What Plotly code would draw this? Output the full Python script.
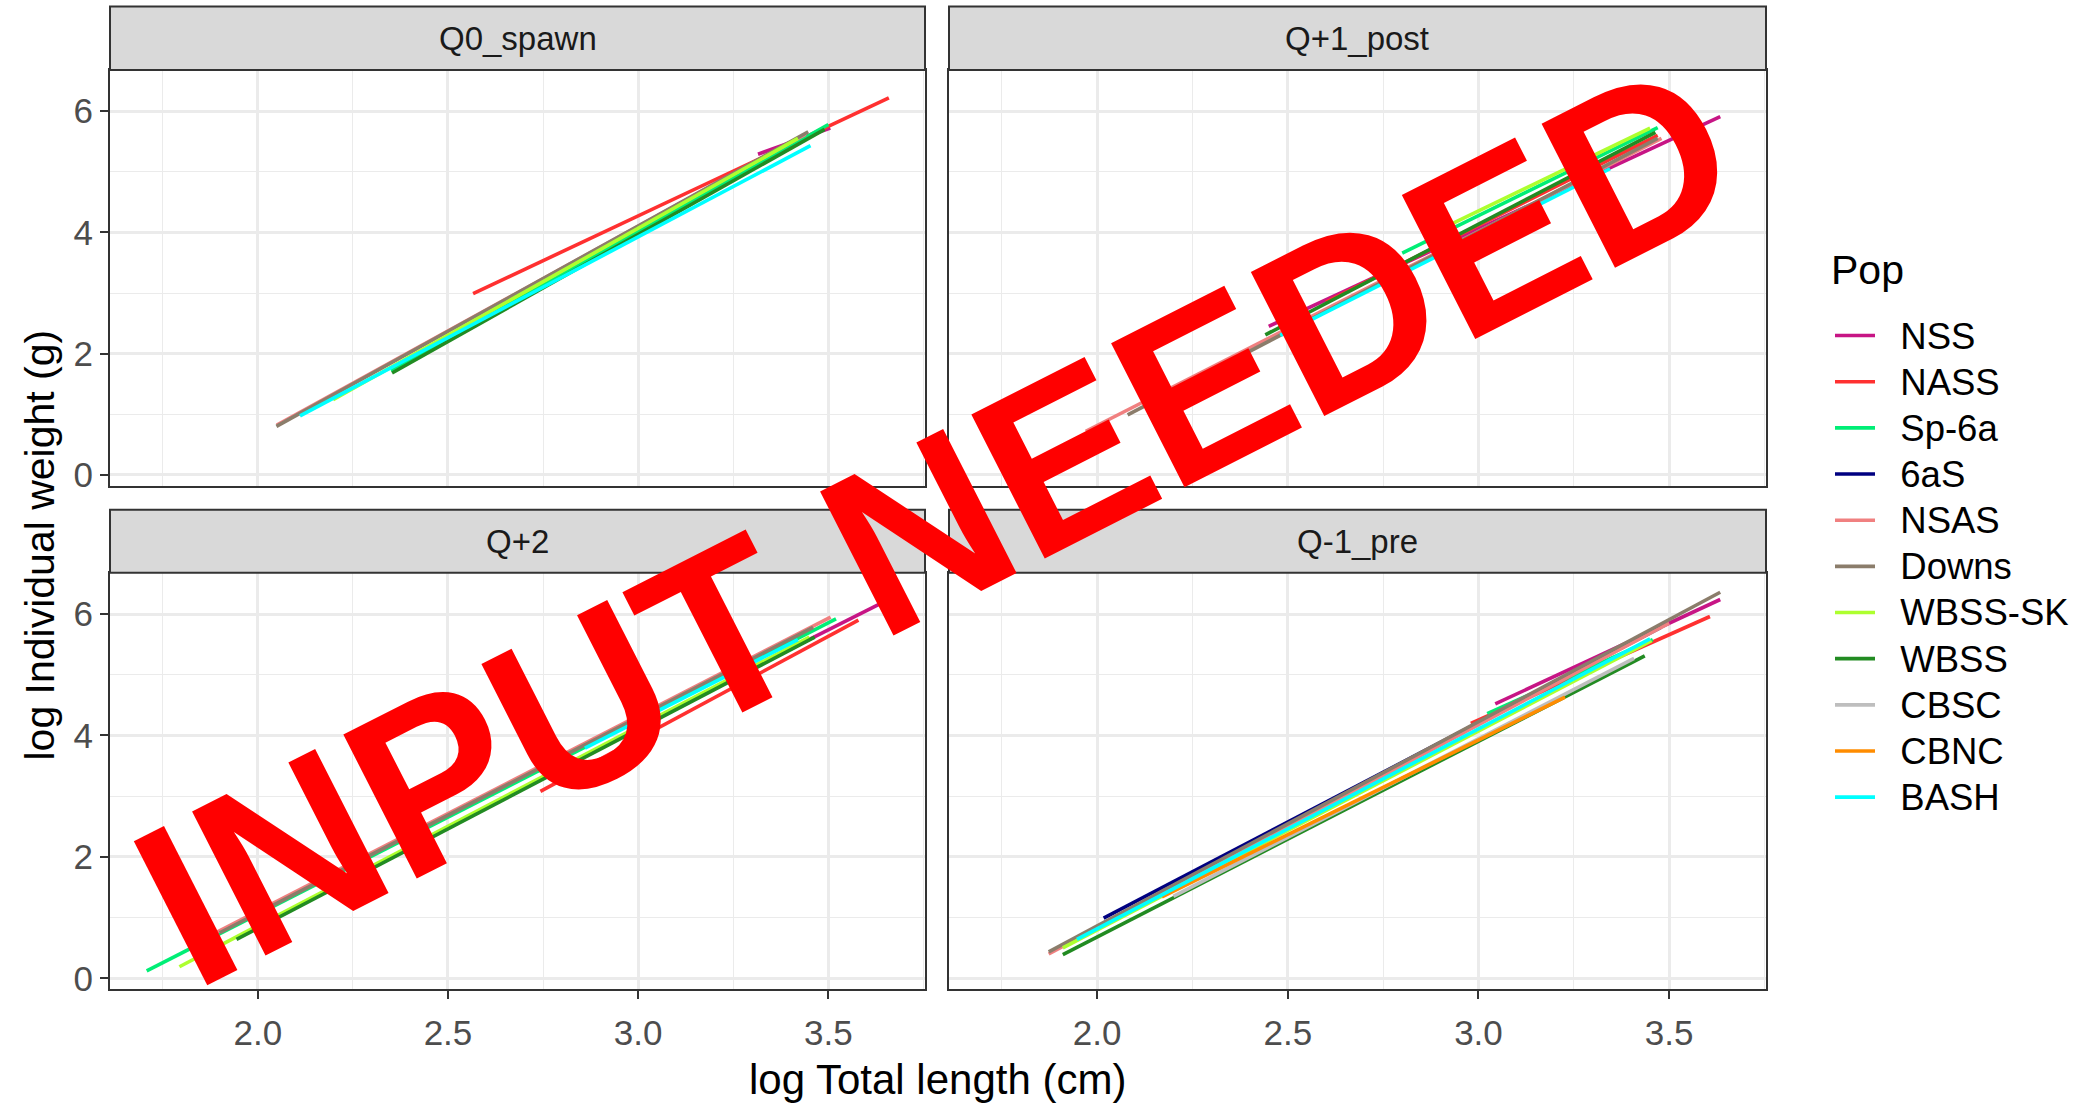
import plotly.graph_objects as go

W, H = 2096, 1104
FONT = "Liberation Sans"

# ---- data ----------------------------------------------------------------
POPS = ["NSS", "NASS", "Sp-6a", "6aS", "NSAS", "Downs", "WBSS-SK", "WBSS", "CBSC", "CBNC", "BASH"]
POP_COLORS = ["#C71585", "#FF3030", "#00EE76", "#000080", "#F08080", "#8B7D6B",
              "#ADFF2F", "#228B22", "#BEBEBE", "#FF8C00", "#00FFFF"]
PANELS = ["Q0_spawn", "Q+1_post", "Q+2", "Q-1_pre"]

# fitted lines per panel: (population, x start, x end, y start, y end)
Q0_SPAWN = [
    ("NSS", 3.315, 3.505, 5.29, 5.72),
    ("NASS", 2.566, 3.659, 2.99, 6.22),
    ("Sp-6a", 2.35, 3.50, 1.72, 5.78),
    ("NSAS", 2.05, 3.44, 0.82, 5.62),
    ("Downs", 2.049, 3.447, 0.80, 5.66),
    ("WBSS-SK", 2.198, 3.42, 1.24, 5.55),
    ("WBSS", 2.353, 3.49, 1.68, 5.70),
    ("BASH", 2.111, 3.453, 0.975, 5.43),
]
Q1_POST = [
    ("NSS", 2.45, 3.634, 2.45, 5.91),
    ("NASS", 2.60, 3.47, 2.85, 5.60),
    ("Sp-6a", 2.80, 3.47, 3.66, 5.73),
    ("NSAS", 1.97, 3.48, 0.72, 5.55),
    ("Downs", 2.08, 3.47, 0.99, 5.55),
    ("WBSS-SK", 2.90, 3.45, 4.05, 5.72),
    ("WBSS", 2.441, 3.464, 2.31, 5.65),
    ("BASH", 2.48, 3.345, 2.30, 5.05),
]
Q2 = [
    ("NSS", 3.25, 3.642, 4.95, 6.19),
    ("NASS", 2.743, 3.579, 3.08, 5.90),
    ("Sp-6a", 1.708, 3.52, 0.12, 5.92),
    ("NSAS", 1.88, 3.506, 0.72, 5.95),
    ("Downs", 1.90, 3.46, 0.75, 5.78),
    ("WBSS-SK", 1.794, 3.45, 0.19, 5.62),
    ("WBSS", 1.944, 3.464, 0.64, 5.62),
    ("BASH", 2.86, 3.42, 3.79, 5.58),
]
Q_1_PRE = [
    ("NSS", 3.044, 3.634, 4.52, 6.24),
    ("NASS", 2.98, 3.607, 4.20, 5.96),
    ("Sp-6a", 3.023, 3.457, 4.36, 5.58),
    ("6aS", 2.017, 3.478, 0.99, 5.78),
    ("NSAS", 1.873, 3.50, 0.40, 5.85),
    ("Downs", 1.873, 3.634, 0.435, 6.36),
    ("WBSS-SK", 1.91, 3.454, 0.50, 5.56),
    ("WBSS", 1.91, 3.436, 0.39, 5.31),
    ("CBSC", 2.20, 3.408, 1.35, 5.27),
    ("CBNC", 2.17, 3.227, 1.34, 4.63),
    ("BASH", 1.947, 3.45, 0.64, 5.59),
]
PANEL_DATA = [Q0_SPAWN, Q1_POST, Q2, Q_1_PRE]

X_TICKS = [2.0, 2.5, 3.0, 3.5]
Y_TICKS = [0, 2, 4, 6]

# ---- layout geometry (pixels in the 2096x1104 page) ---------------------
COLS_PX = [(110, 925), (949, 1766)]
ROWS_PX = [(70.5, 489.5), (577.5, 997)]      # plot area top/bottom
STRIP_PX = [(6.5, 70.5), (514, 577.5)]        # strip top/bottom


def px_x(p):
    return p / W


def px_y(p):
    return 1 - p / H


fig = go.Figure()
seen = set()
for k, rows in enumerate(PANEL_DATA):
    by_pop = {r[0]: r for r in rows}
    for pop, col in zip(POPS, POP_COLORS):
        if pop not in by_pop:
            continue
        _, x0, x1, y0, y1 = by_pop[pop]
        fig.add_trace(go.Scatter(
            x=[x0, x1], y=[y0, y1], mode="lines",
            line=dict(color=col, width=3.6),
            name=f"<span style='font-size:36.5px'>&nbsp;&nbsp;{pop}</span>",
            legendgroup=pop, legendrank=POPS.index(pop) + 1,
            showlegend=pop not in seen,
            xaxis=f"x{k + 1}", yaxis=f"y{k + 1}", hoverinfo="skip",
        ))
        seen.add(pop)

axis_common = dict(
    showgrid=True, gridcolor="#EBEBEB", gridwidth=2.6, zeroline=False,
    showline=True, mirror=True, linecolor="#333333", linewidth=2,
    tickfont=dict(family=FONT, size=35, color="#4D4D4D"),
    ticklen=8, tickwidth=2, tickcolor="#333333",
)

layout = dict(
    width=W, height=H, margin=dict(l=0, r=0, t=0, b=0),
    paper_bgcolor="white", plot_bgcolor="white",
    font=dict(family=FONT, color="black"),
)
for k in range(4):
    r, c = divmod(k, 2)
    xa = dict(axis_common)
    xa.update(domain=[px_x(COLS_PX[c][0]), px_x(COLS_PX[c][1])],
              range=[1.6115, 3.754], tickvals=X_TICKS,
              ticktext=[f"{v:.1f}" for v in X_TICKS],
              minor=dict(tickvals=[1.75, 2.25, 2.75, 3.25, 3.75], showgrid=True,
                         gridcolor="#EBEBEB", gridwidth=1.3, ticks=""),
              anchor=f"y{k + 1}")
    ya = dict(axis_common)
    ya.update(domain=[px_y(ROWS_PX[r][1]), px_y(ROWS_PX[r][0])],
              range=[-0.175, 6.68], tickvals=Y_TICKS,
              minor=dict(tickvals=[1, 3, 5], showgrid=True,
                         gridcolor="#EBEBEB", gridwidth=1.3, ticks=""),
              anchor=f"x{k + 1}")
    if r == 0:
        xa.update(showticklabels=False, ticks="")
    else:
        xa.update(ticks="outside", ticklabelstandoff=4)
    if c == 1:
        ya.update(showticklabels=False, ticks="")
    else:
        ya.update(ticks="outside")
    layout[f"xaxis{k + 1}" if k else "xaxis"] = xa
    layout[f"yaxis{k + 1}" if k else "yaxis"] = ya

shapes = []
annotations = []
for k, name in enumerate(PANELS):
    r, c = divmod(k, 2)
    x0, x1 = px_x(COLS_PX[c][0]), px_x(COLS_PX[c][1])
    s0, s1 = px_y(STRIP_PX[r][1]), px_y(STRIP_PX[r][0])
    shapes.append(dict(type="rect", xref="paper", yref="paper", x0=x0, x1=x1, y0=s0, y1=s1,
                       fillcolor="#D9D9D9", line=dict(color="#333333", width=2), layer="above"))
    annotations.append(dict(text=name, xref="paper", yref="paper", x=(x0 + x1) / 2,
                            y=(s0 + s1) / 2, xanchor="center", yanchor="middle", showarrow=False,
                            font=dict(family=FONT, size=33, color="#1A1A1A")))

annotations.append(dict(text="log Total length (cm)", xref="paper", yref="paper",
                        x=px_x(937), y=px_y(1088), xanchor="center", yanchor="middle",
                        showarrow=False, font=dict(family=FONT, size=42, color="black")))
annotations.append(dict(text="log Individual weight (g)", xref="paper", yref="paper",
                        x=px_x(40), y=px_y(550), xanchor="center", yanchor="middle",
                        textangle=-90, showarrow=False,
                        font=dict(family=FONT, size=41, color="black")))
annotations.append(dict(text="Pop", xref="paper", yref="paper",
                        x=px_x(1829), y=px_y(272), xanchor="left", yanchor="middle",
                        showarrow=False, font=dict(family=FONT, size=41, color="black")))
annotations.append(dict(text="<b>INPUT NEEDED</b>", xref="paper", yref="paper",
                        x=px_x(936), y=px_y(527), xanchor="center", yanchor="middle",
                        textangle=-27, showarrow=False,
                        font=dict(family=FONT, size=235, color="#FF0000")))

layout.update(
    shapes=shapes, annotations=annotations,
    legend=dict(x=px_x(1830), xanchor="left", y=px_y(310), yanchor="top",
                bgcolor="rgba(0,0,0,0)", itemwidth=40, tracegroupgap=0,
                font=dict(family=FONT, size=33.2, color="black")),
)
fig.update_layout(layout)
fig.write_html("out.html")
